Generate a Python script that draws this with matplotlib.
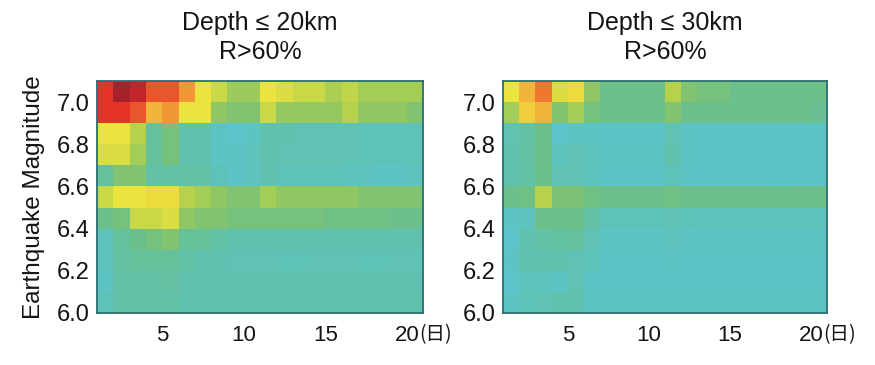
import numpy as np
import matplotlib
matplotlib.use("Agg")
import matplotlib.pyplot as plt
from matplotlib.colors import LinearSegmentedColormap

plt.rcParams['font.family'] = ['Liberation Sans', 'DejaVu Sans']

days = np.arange(1, 21)
magnitudes = np.round(np.arange(6.0, 7.01, 0.1), 1)

titles = ["Depth \u2264 20km\nR>60%", "Depth \u2264 30km\nR>60%"]
xticks = [5, 10, 15, 20]
yticks = [6.0, 6.2, 6.4, 6.6, 6.8, 7.0]

# score per cell, rows listed from M7.0 down to M6.0, columns day 1..20
depth20 = [
    [9, 10, 9.6, 8.5, 8.5, 7.5, 6, 5, 3.8, 3.8, 6, 5.5, 5, 5, 4.2, 4.8, 4, 4, 4, 4],
    [9, 9, 8.5, 7, 7.5, 6, 6, 3.5, 3, 3, 5, 3.6, 3.6, 3.6, 3.6, 4.5, 3.5, 3.5, 3.5, 3],
    [6, 6, 4.5, 1.5, 2.5, 1, 1, 0.3, 0, 0.3, 1, 1, 0.8, 0.8, 0.8, 0.8, 0.6, 0.6, 0.6, 0.6],
    [5.5, 5.5, 4, 1.5, 2.5, 1, 1, 0.3, 0.3, 0.5, 1, 0.8, 0.8, 0.8, 0.8, 0.8, 0.7, 0.6, 0.6, 0.7],
    [1.5, 3, 3, 1.2, 1.2, 1.2, 1.2, 0.6, 0.2, 0.5, 0.9, 0.6, 0.6, 0.6, 0.6, 0.5, 0.4, 0.3, 0.3, 0.4],
    [5, 6, 6, 6.2, 6.2, 4.5, 4, 3.5, 3, 3, 4, 3.5, 3.5, 3.5, 3.5, 3.5, 3, 3, 3, 3],
    [2, 2.5, 5, 5, 5.5, 3.5, 3, 3, 2.5, 2.5, 2.5, 2.5, 2.5, 2.5, 2.2, 2.2, 2.2, 2.2, 2, 2],
    [0.5, 1.5, 2, 2.5, 3, 1.6, 1.6, 1.2, 1, 1, 1, 1, 1, 1, 1, 1, 0.9, 0.9, 1, 1],
    [0.4, 1.4, 1.6, 1.6, 1.6, 1.2, 1, 0.9, 0.8, 0.8, 0.8, 0.7, 0.7, 0.8, 0.8, 0.8, 0.7, 0.7, 0.8, 0.8],
    [0.3, 1.2, 1.2, 1.2, 1.4, 1, 0.9, 0.9, 0.9, 0.9, 0.9, 0.9, 0.9, 0.9, 0.9, 0.9, 0.9, 0.9, 0.9, 0.9],
    [0.6, 1.2, 1.2, 1.2, 1.2, 1, 1, 1, 1, 1, 1, 1, 1, 1, 1, 1, 1, 1, 1, 1],
]

depth30 = [
    [6, 7, 8, 5.5, 6.2, 3.5, 2, 2, 2, 2, 4.5, 3, 2.5, 2.5, 2, 2, 2, 2, 2, 2],
    [4, 6.5, 7, 3, 4, 2.5, 2, 2, 2, 2, 3, 2, 2, 2, 2, 2, 2, 2, 2, 1.8],
    [0.8, 1.2, 2, 0, 0.3, 0.3, 0.1, 0.1, 0.1, 0.1, 0.8, 0.3, 0.2, 0.2, 0.2, 0.2, 0.2, 0.2, 0.2, 0.2],
    [1, 1.3, 2, 0.5, 0.8, 0.5, 0.3, 0.3, 0.3, 0.3, 1, 0.3, 0.2, 0.2, 0.2, 0.2, 0.2, 0.2, 0.2, 0.2],
    [1, 1.2, 2, 0.8, 0.8, 0.5, 0.2, 0.2, 0.2, 0.2, 0.6, 0.2, 0.2, 0.2, 0.2, 0.2, 0.1, 0.1, 0.2, 0.2],
    [2, 2.2, 4.5, 2.8, 2.8, 2.2, 2, 2, 2, 2, 2.3, 2, 2, 2, 2, 2, 2, 2, 2, 2],
    [0.3, 0.5, 2, 2, 2, 1.2, 0.7, 0.6, 0.6, 0.6, 0.8, 0.6, 0.5, 0.5, 0.5, 0.5, 0.5, 0.5, 0.5, 0.5],
    [0, 1, 1.2, 1.3, 1.5, 0.8, 0.3, 0.3, 0.3, 0.3, 0.4, 0.3, 0.3, 0.3, 0.3, 0.3, 0.3, 0.3, 0.3, 0.3],
    [0.2, 1, 1, 1, 0.8, 0.6, 0.2, 0.2, 0.2, 0.2, 0.3, 0.2, 0.2, 0.2, 0.2, 0.2, 0.2, 0.2, 0.2, 0.2],
    [0, 0.5, 0.5, 0.3, 0.8, 0.2, 0.2, 0.2, 0.2, 0.2, 0.2, 0.2, 0.2, 0.2, 0.2, 0.2, 0.2, 0.2, 0.2, 0.2],
    [0.3, 0.6, 0.8, 1, 1, 0.3, 0.3, 0.3, 0.3, 0.3, 0.3, 0.3, 0.3, 0.3, 0.3, 0.3, 0.3, 0.3, 0.3, 0.3],
]

cmap = LinearSegmentedColormap.from_list("washed_jet", [
    (0.00, "#5cc4cb"),
    (0.10, "#60c1ad"),
    (0.20, "#6bbf8a"),
    (0.32, "#86c46a"),
    (0.45, "#b6d24c"),
    (0.60, "#ece43e"),
    (0.72, "#f2ad3a"),
    (0.82, "#ee6a2c"),
    (0.92, "#e2282a"),
    (1.00, "#a6222a"),
])

x_edges = np.append(days, days[-1] + 1)
y_edges = np.round(np.append(magnitudes, magnitudes[-1] + 0.1), 1)

fig = plt.figure(figsize=(8.75, 3.65), dpi=100)
ax_l = fig.add_axes([0.1109, 0.1425, 0.3726, 0.6356])
ax_r = fig.add_axes([0.5749, 0.1425, 0.3703, 0.6356])

ink = "#141414"
for ax, grid, title in zip([ax_l, ax_r], [depth20, depth30], titles):
    z = np.flipud(np.array(grid, dtype=float))
    ax.pcolormesh(x_edges, y_edges, z, cmap=cmap, vmin=0, vmax=10, shading="flat")
    ax.set_xlim(x_edges[0], x_edges[-1])
    ax.set_ylim(y_edges[0], y_edges[-1])
    ax.set_xticks(xticks)
    ax.set_xticklabels([str(t) for t in xticks])
    ax.set_yticks(yticks)
    ax.set_yticklabels([f"{t:.1f}" for t in yticks])
    ax.tick_params(length=0, colors=ink)
    ax.tick_params(axis="x", pad=9, labelsize=16)
    ax.tick_params(axis="y", pad=5, labelsize=17)
    for s in ax.spines.values():
        s.set_color("#2a6e70")
        s.set_linewidth(1.3)
    ax.set_title(title, fontsize=18, color=ink, pad=16, linespacing=1.25)
    ax.annotate("(日)", xy=(20, 0), xycoords=("data", "axes fraction"),
                xytext=(9, -15.5), textcoords="offset points",
                ha="left", va="center", fontsize=14, color=ink,
                family=["Noto Sans CJK JP", "DejaVu Sans"])

ax_l.set_ylabel("Earthquake Magnitude", fontsize=17.5, color=ink, labelpad=9)

fig.savefig("out.png", dpi=100, facecolor="white")
